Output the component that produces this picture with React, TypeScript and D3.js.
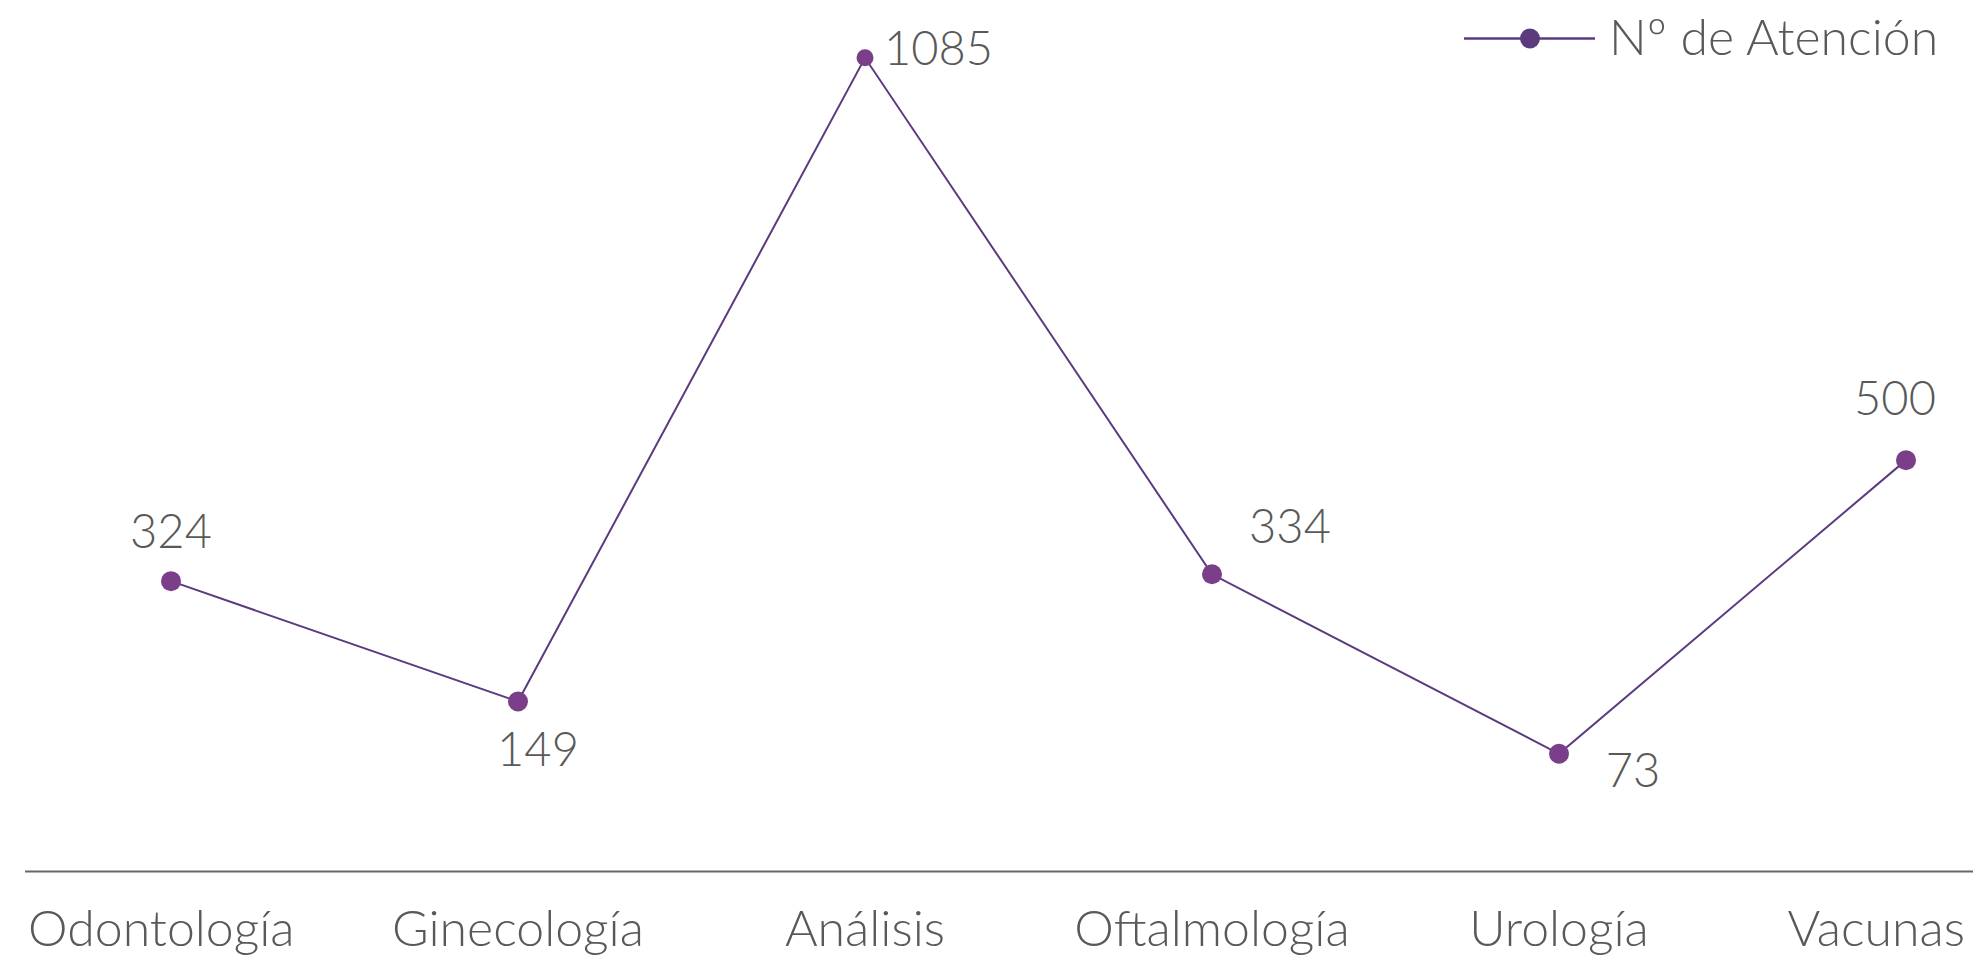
import React from "react";
import * as d3 from "d3";

const categories = ["Odontología", "Ginecología", "Análisis", "Oftalmología", "Urología", "Vacunas"];
const values = [324, 149, 1085, 334, 73, 500];
const seriesName = "Nº de Atención";

// layout-only: label offsets relative to each point (px)
const labelLayout = [
  { dx: 0, dy: -33, anchor: "middle" },
  { dx: 20, dy: 64, anchor: "middle" },
  { dx: 19, dy: 7, anchor: "start" },
  { dx: 78, dy: -31, anchor: "middle" },
  { dx: 74, dy: 33, anchor: "middle" },
  { dx: -11, dy: -45, anchor: "middle" },
];

const W = 1973;
const H = 957;
const FONT = "Lato, Roboto, 'Open Sans', sans-serif";
const TEXT = "#595959";
const LINE = "#5b3a80";
const DOT = "#7b3f8a";

export default function App() {
  const x = d3.scalePoint<string>().domain(categories).range([171, 1906]);
  const y = d3.scaleLinear().domain([0, 1100]).range([804, 47.5]);
  const line = d3
    .line<number>()
    .x((_, i) => x(categories[i]) as number)
    .y((d) => y(d));

  return (
    <svg
      width={W}
      height={H}
      style={{ position: "absolute", left: 0, top: 0, background: "#fff" }}
      fontFamily={FONT}
    >
      <path d={line(values) || ""} fill="none" stroke={LINE} strokeWidth={2} />
      {values.map((v, i) => (
        <circle key={i} cx={x(categories[i])} cy={y(v)} r={i === 2 ? 8.5 : 10} fill={DOT} />
      ))}
      {values.map((v, i) => (
        <text
          key={"l" + i}
          x={(x(categories[i]) as number) + labelLayout[i].dx}
          y={y(v) + labelLayout[i].dy}
          textAnchor={labelLayout[i].anchor}
          fontSize={47}
          fontWeight={300}
          fill={TEXT}
        >
          {v}
        </text>
      ))}
      <line x1={25} x2={W} y1={871.5} y2={871.5} stroke="#666" strokeWidth={2} />
      {categories.map((c, i) => {
        const last = i === categories.length - 1;
        const first = i === 0;
        const cx = x(c) as number;
        return (
          <text
            key={"c" + i}
            x={last ? W - 8 : first ? 28 : cx}
            y={946}
            textAnchor={last ? "end" : first ? "start" : "middle"}
            fontSize={50}
            fontWeight={300}
            fill={TEXT}
          >
            {c}
          </text>
        );
      })}
      <g>
        <line x1={1464} x2={1595} y1={38.5} y2={38.5} stroke={LINE} strokeWidth={2.5} />
        <circle cx={1530} cy={38.5} r={10} fill="#5c3a7e" />
        <text x={1609} y={55} fontSize={50} fontWeight={300} fill={TEXT}>
          {seriesName}
        </text>
      </g>
    </svg>
  );
}
